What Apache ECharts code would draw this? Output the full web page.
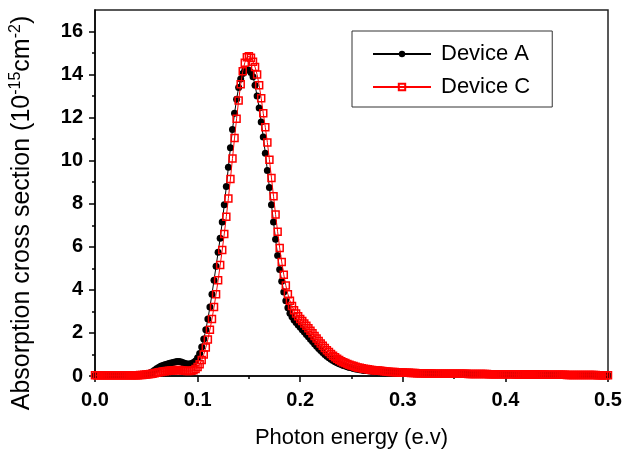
<!DOCTYPE html>
<html>
<head>
<meta charset="utf-8">
<script src="https://cdn.jsdelivr.net/npm/echarts@6.0.0/dist/echarts.min.js"></script>
<style>
  html, body { margin: 0; padding: 0; background: #fff; }
  #chart { width: 623px; height: 453px; }
</style>
</head>
<body>
<div id="chart"></div>
<script>
// Photon energy grid (eV)
const energy = [
  0.000, 0.002, 0.004, 0.006, 0.008, 0.010, 0.012, 0.014, 0.016, 0.018,
  0.020, 0.022, 0.024, 0.026, 0.028, 0.030, 0.032, 0.034, 0.036, 0.038,
  0.040, 0.042, 0.044, 0.046, 0.048, 0.050, 0.052, 0.054, 0.056, 0.058,
  0.060, 0.062, 0.064, 0.066, 0.068, 0.070, 0.072, 0.074, 0.076, 0.078,
  0.080, 0.082, 0.084, 0.086, 0.088, 0.090, 0.092, 0.094, 0.096, 0.098,
  0.100, 0.102, 0.104, 0.106, 0.108, 0.110, 0.112, 0.114, 0.116, 0.118,
  0.120, 0.122, 0.124, 0.126, 0.128, 0.130, 0.132, 0.134, 0.136, 0.138,
  0.140, 0.142, 0.144, 0.146, 0.148, 0.150, 0.152, 0.154, 0.156, 0.158,
  0.160, 0.162, 0.164, 0.166, 0.168, 0.170, 0.172, 0.174, 0.176, 0.178,
  0.180, 0.182, 0.184, 0.186, 0.188, 0.190, 0.192, 0.194, 0.196, 0.198,
  0.200, 0.202, 0.204, 0.206, 0.208, 0.210, 0.212, 0.214, 0.216, 0.218,
  0.220, 0.222, 0.224, 0.226, 0.228, 0.230, 0.232, 0.234, 0.236, 0.238,
  0.240, 0.242, 0.244, 0.246, 0.248, 0.250, 0.252, 0.254, 0.256, 0.258,
  0.260, 0.262, 0.264, 0.266, 0.268, 0.270, 0.272, 0.274, 0.276, 0.278,
  0.280, 0.282, 0.284, 0.286, 0.288, 0.290, 0.292, 0.294, 0.296, 0.298,
  0.300, 0.302, 0.304, 0.306, 0.308, 0.310, 0.312, 0.314, 0.316, 0.318,
  0.320, 0.322, 0.324, 0.326, 0.328, 0.330, 0.332, 0.334, 0.336, 0.338,
  0.340, 0.342, 0.344, 0.346, 0.348, 0.350, 0.352, 0.354, 0.356, 0.358,
  0.360, 0.362, 0.364, 0.366, 0.368, 0.370, 0.372, 0.374, 0.376, 0.378,
  0.380, 0.382, 0.384, 0.386, 0.388, 0.390, 0.392, 0.394, 0.396, 0.398,
  0.400, 0.402, 0.404, 0.406, 0.408, 0.410, 0.412, 0.414, 0.416, 0.418,
  0.420, 0.422, 0.424, 0.426, 0.428, 0.430, 0.432, 0.434, 0.436, 0.438,
  0.440, 0.442, 0.444, 0.446, 0.448, 0.450, 0.452, 0.454, 0.456, 0.458,
  0.460, 0.462, 0.464, 0.466, 0.468, 0.470, 0.472, 0.474, 0.476, 0.478,
  0.480, 0.482, 0.484, 0.486, 0.488, 0.490, 0.492, 0.494, 0.496, 0.498,
  0.500
];

// Absorption cross section, Device A (1e-15 cm^-2)
const deviceA = [
  0.03, 0.03, 0.03, 0.03, 0.03, 0.03, 0.03, 0.03, 0.03, 0.03,
  0.03, 0.03, 0.03, 0.03, 0.03, 0.03, 0.03, 0.03, 0.03, 0.03,
  0.04, 0.04, 0.05, 0.06, 0.07, 0.09, 0.11, 0.15, 0.20, 0.27,
  0.34, 0.40, 0.45, 0.49, 0.52, 0.55, 0.58, 0.60, 0.63, 0.65,
  0.67, 0.67, 0.65, 0.62, 0.58, 0.56, 0.56, 0.58, 0.63, 0.70,
  0.85, 1.05, 1.35, 1.72, 2.15, 2.65, 3.20, 3.80, 4.45, 5.10,
  5.75, 6.40, 7.15, 7.95, 8.80, 9.70, 10.60, 11.45, 12.20, 12.85,
  13.40, 13.80, 14.05, 14.20, 14.25, 14.20, 14.10, 13.90, 13.50, 13.00,
  12.45, 11.80, 11.10, 10.35, 9.55, 8.75, 7.95, 7.15, 6.35, 5.60,
  4.95, 4.40, 3.90, 3.50, 3.17, 2.92, 2.75, 2.60, 2.48, 2.37,
  2.26, 2.15, 2.04, 1.93, 1.82, 1.71, 1.60, 1.49, 1.38, 1.28,
  1.18, 1.09, 1.00, 0.92, 0.85, 0.78, 0.72, 0.66, 0.61, 0.57,
  0.53, 0.49, 0.46, 0.43, 0.40, 0.38, 0.35, 0.33, 0.31, 0.29,
  0.28, 0.26, 0.25, 0.24, 0.23, 0.22, 0.21, 0.20, 0.20, 0.19,
  0.18, 0.18, 0.17, 0.17, 0.16, 0.16, 0.15, 0.15, 0.14, 0.14,
  0.13, 0.13, 0.13, 0.12, 0.12, 0.12, 0.12, 0.11, 0.11, 0.11,
  0.11, 0.10, 0.10, 0.10, 0.10, 0.10, 0.09, 0.09, 0.09, 0.09,
  0.09, 0.09, 0.09, 0.09, 0.09, 0.08, 0.08, 0.08, 0.08, 0.08,
  0.08, 0.08, 0.08, 0.08, 0.08, 0.08, 0.08, 0.08, 0.08, 0.07,
  0.07, 0.07, 0.07, 0.07, 0.07, 0.07, 0.07, 0.07, 0.07, 0.07,
  0.07, 0.07, 0.07, 0.07, 0.07, 0.06, 0.06, 0.06, 0.06, 0.06,
  0.06, 0.06, 0.06, 0.06, 0.06, 0.06, 0.06, 0.06, 0.06, 0.06,
  0.05, 0.05, 0.05, 0.05, 0.05, 0.05, 0.05, 0.05, 0.05, 0.05,
  0.05, 0.05, 0.05, 0.05, 0.05, 0.05, 0.05, 0.05, 0.05, 0.05,
  0.04, 0.04, 0.04, 0.04, 0.04, 0.04, 0.04, 0.04, 0.04, 0.04,
  0.04
];

// Absorption cross section, Device C (1e-15 cm^-2)
const deviceC = [
  0.03, 0.03, 0.03, 0.03, 0.03, 0.03, 0.03, 0.03, 0.03, 0.03,
  0.03, 0.03, 0.03, 0.03, 0.03, 0.03, 0.03, 0.03, 0.03, 0.03,
  0.04, 0.04, 0.05, 0.05, 0.06, 0.07, 0.08, 0.09, 0.11, 0.13,
  0.15, 0.17, 0.19, 0.21, 0.22, 0.23, 0.24, 0.25, 0.26, 0.27,
  0.28, 0.28, 0.27, 0.26, 0.24, 0.23, 0.23, 0.24, 0.27, 0.33,
  0.42, 0.55, 0.74, 1.00, 1.32, 1.70, 2.15, 2.65, 3.20, 3.80,
  4.45, 5.15, 5.85, 6.60, 7.40, 8.25, 9.15, 10.10, 11.05, 11.95,
  12.80, 13.55, 14.15, 14.55, 14.80, 14.85, 14.78, 14.60, 14.35, 14.00,
  13.50, 12.90, 12.20, 11.55, 10.85, 10.05, 9.20, 8.35, 7.50, 6.70,
  5.95, 5.30, 4.70, 4.20, 3.80, 3.50, 3.25, 3.05, 2.90, 2.77,
  2.65, 2.55, 2.44, 2.33, 2.22, 2.10, 1.98, 1.86, 1.74, 1.62,
  1.51, 1.40, 1.30, 1.20, 1.11, 1.02, 0.94, 0.87, 0.80, 0.74,
  0.69, 0.64, 0.60, 0.56, 0.52, 0.49, 0.46, 0.43, 0.40, 0.38,
  0.36, 0.34, 0.32, 0.31, 0.29, 0.28, 0.27, 0.26, 0.25, 0.24,
  0.23, 0.22, 0.21, 0.20, 0.19, 0.19, 0.18, 0.17, 0.17, 0.16,
  0.16, 0.15, 0.15, 0.15, 0.14, 0.14, 0.14, 0.13, 0.13, 0.13,
  0.13, 0.12, 0.12, 0.12, 0.12, 0.11, 0.11, 0.11, 0.11, 0.11,
  0.10, 0.10, 0.10, 0.10, 0.10, 0.10, 0.10, 0.10, 0.10, 0.10,
  0.10, 0.10, 0.09, 0.09, 0.09, 0.09, 0.09, 0.09, 0.09, 0.09,
  0.09, 0.09, 0.08, 0.08, 0.08, 0.08, 0.08, 0.08, 0.08, 0.08,
  0.08, 0.08, 0.08, 0.08, 0.08, 0.07, 0.07, 0.07, 0.07, 0.07,
  0.07, 0.07, 0.07, 0.07, 0.07, 0.07, 0.07, 0.07, 0.07, 0.07,
  0.06, 0.06, 0.06, 0.06, 0.06, 0.06, 0.06, 0.06, 0.06, 0.06,
  0.05, 0.05, 0.05, 0.05, 0.05, 0.05, 0.05, 0.05, 0.05, 0.05,
  0.05, 0.05, 0.05, 0.05, 0.05, 0.04, 0.04, 0.04, 0.04, 0.04,
  0.04
];

const seriesNames = ['Device A', 'Device C'];
const yMajorTicks = [0, 2, 4, 6, 8, 10, 12, 14, 16];
const yMinorTicks = [1, 3, 5, 7, 9, 11, 13, 15];

const toPairs = (ys) => energy.map((e, i) => [e, ys[i]]);

const FONT = 'Liberation Sans, Arial, sans-serif';
const axisColor = '#000';

const chart = echarts.init(document.getElementById('chart'), null, { renderer: 'canvas' });

chart.setOption({
  animation: false,
  backgroundColor: '#fff',
  grid: {
    left: 95, right: 15, top: 10, bottom: 77,
    outerBoundsMode: 'none',
    show: true, borderColor: '#222', borderWidth: 1.5,
    backgroundColor: 'transparent'
  },
  legend: {
    orient: 'vertical',
    left: 352, top: 31,
    padding: [12, 22, 9, 20],
    itemGap: 11,
    itemWidth: 58,
    itemHeight: 8,
    borderColor: '#333',
    borderWidth: 1,
    backgroundColor: '#fff',
    textStyle: { fontFamily: FONT, fontSize: 22, color: '#000', padding: [0, 0, 0, 5] },
    data: seriesNames
  },
  xAxis: {
    type: 'value',
    min: 0, max: 0.5, interval: 0.1,
    name: 'Photon energy (e.v)',
    nameLocation: 'middle',
    nameGap: 51,
    nameTextStyle: { fontFamily: FONT, fontSize: 22, color: '#000' },
    axisLine: { lineStyle: { color: axisColor, width: 1.5 } },
    axisTick: { length: 6, lineStyle: { color: axisColor, width: 1.5 } },
    minorTick: { show: true, splitNumber: 2, length: 3, lineStyle: { color: axisColor, width: 1.5 } },
    splitLine: { show: false },
    axisLabel: {
      fontFamily: FONT, fontWeight: 'bold', fontSize: 20, color: '#000', margin: 14,
      formatter: (v) => v.toFixed(1)
    }
  },
  yAxis: [
    {
      type: 'value',
      min: 0, max: 17, interval: 2,
      name: 'Absorption cross section (10{sup|-15}cm{sup|-2})',
      nameLocation: 'middle',
      nameGap: 58,
      nameTextStyle: {
        fontFamily: FONT, fontSize: 25, color: '#000', lineHeight: 29,
        padding: [0, 40, 0, 0],
        rich: {
          sup: { fontFamily: FONT, fontSize: 16, color: '#000', verticalAlign: 'top', lineHeight: 16 }
        }
      },
      axisLine: { show: true, lineStyle: { color: axisColor, width: 1.5 } },
      axisTick: { length: 6, lineStyle: { color: axisColor, width: 1.5 }, customValues: yMajorTicks },
      splitLine: { show: false },
      axisLabel: {
        fontFamily: FONT, fontWeight: 'bold', fontSize: 20, color: '#000', margin: 12,
        customValues: yMajorTicks
      }
    },
    {
      type: 'value',
      min: 0, max: 17, interval: 1,
      position: 'left',
      axisLine: { show: false },
      axisTick: { show: true, length: 3, lineStyle: { color: axisColor, width: 1.5 }, customValues: yMinorTicks },
      axisLabel: { show: false },
      splitLine: { show: false }
    }
  ],
  series: [
    {
      name: seriesNames[0],
      type: 'line',
      data: toPairs(deviceA),
      symbol: 'circle',
      symbolSize: 7,
      itemStyle: { color: '#000' },
      lineStyle: { color: '#000', width: 1 },
      z: 2
    },
    {
      name: seriesNames[1],
      type: 'line',
      data: toPairs(deviceC),
      symbol: 'rect',
      symbolSize: 7,
      itemStyle: { color: 'rgba(0,0,0,0)', borderColor: '#ff0000', borderWidth: 1.5 },
      lineStyle: { color: '#ff0000', width: 1 },
      z: 3
    }
  ]
});
</script>
</body>
</html>
